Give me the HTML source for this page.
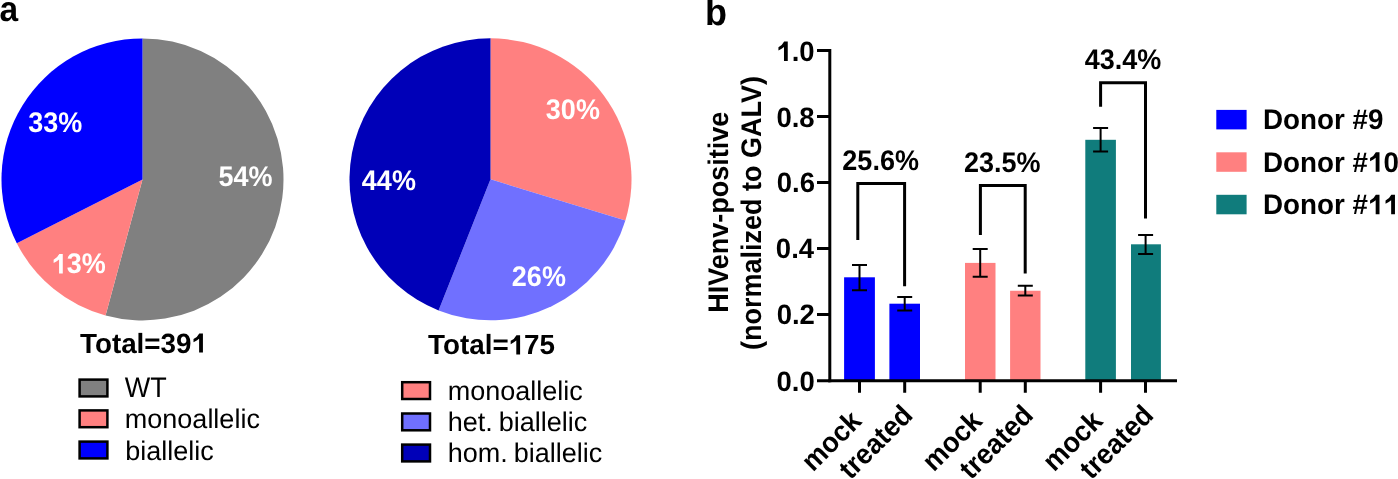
<!DOCTYPE html>
<html><head><meta charset="utf-8"><style>
html,body{margin:0;padding:0;background:#fff;width:1398px;height:479px;overflow:hidden}
svg{display:block;text-rendering:geometricPrecision;will-change:transform}
text{font-family:"Liberation Sans",sans-serif}
</style></head><body>
<svg width="1398" height="479" viewBox="0 0 1398 479">
<path d="M142.5,179.4 L142.50,38.40 A141,141 0 1 1 105.55,315.47 Z" fill="#808080"/>
<path d="M142.5,179.4 L105.55,315.47 A141,141 0 0 1 16.79,243.26 Z" fill="#FF8080"/>
<path d="M142.5,179.4 L16.79,243.26 A141,141 0 0 1 142.50,38.40 Z" fill="#0000FF"/>
<path d="M490.5,179.3 L490.50,38.30 A141,141 0 0 1 625.36,220.46 Z" fill="#FF8080"/>
<path d="M490.5,179.3 L625.36,220.46 A141,141 0 0 1 438.59,310.40 Z" fill="#7070FF"/>
<path d="M490.5,179.3 L438.59,310.40 A141,141 0 0 1 490.50,38.30 Z" fill="#0000B8"/>
<g stroke="#000" stroke-width="2.5">
<rect x="79.6" y="379.6" width="27.8" height="16.8" fill="#808080"/>
<rect x="79.6" y="410.4" width="27.8" height="16.8" fill="#FF8080"/>
<rect x="79.6" y="441.6" width="27.8" height="16.8" fill="#0000FF"/>
<rect x="402.2" y="382.2" width="27.8" height="16.8" fill="#FF8080"/>
<rect x="402.2" y="413.5" width="27.8" height="16.8" fill="#7070FF"/>
<rect x="402.2" y="444.6" width="27.8" height="16.8" fill="#0000B8"/>
</g>
<rect x="844.1" y="277.3" width="30.8" height="103.70" fill="#0000FF"/>
<rect x="889.4" y="303.7" width="30.6" height="77.30" fill="#0000FF"/>
<rect x="965" y="262.9" width="30.5" height="118.10" fill="#FF8080"/>
<rect x="1010.1" y="290.75" width="30.4" height="90.25" fill="#FF8080"/>
<rect x="1085.3" y="139.8" width="30.6" height="241.20" fill="#107C7C"/>
<rect x="1131" y="244.3" width="29.9" height="136.70" fill="#107C7C"/>
<path d="M859.5,264.9V290.2M852.0,264.9H867.0M852.0,290.2H867.0M904.7,297V310.6M897.2,297H912.2M897.2,310.6H912.2M980.2,249.1V276.8M972.7,249.1H987.7M972.7,276.8H987.7M1025.3,285.7V295.4M1017.8,285.7H1032.8M1017.8,295.4H1032.8M1100.6,127.9V151.5M1093.1,127.9H1108.1M1093.1,151.5H1108.1M1145.6,234.9V254M1138.1,234.9H1153.1M1138.1,254H1153.1" stroke="#000" stroke-width="2" fill="none"/>
<g stroke="#000" stroke-width="3" fill="none">
<path d="M829.8,49V382.2"/>
<path d="M828.3,380.7H1177"/>
<path d="M817,50.6H829.8M817,116.6H829.8M817,182.6H829.8M817,248.6H829.8M817,314.6H829.8M817,380.7H829.8"/>
<path d="M859.5,380.7V392.7M904.7,380.7V392.7M980.2,380.7V392.7M1025.3,380.7V392.7M1100.6,380.7V392.7M1145.5,380.7V392.7"/>
<path d="M857.8,240V183.6H904.6V286.3"/>
<path d="M980.4,234.9V185.4H1025.2V273.6"/>
<path d="M1100.6,106.8V82.8H1145.5V218.4"/>
</g>
<rect x="1216.3" y="109.9" width="30.3" height="19.5" fill="#0000FF"/>
<rect x="1216.3" y="152.3" width="30.3" height="19.5" fill="#FF8080"/>
<rect x="1216.3" y="194.8" width="30.3" height="19.5" fill="#107C7C"/>
<text id="t_a" transform="translate(-0.55,20.65) scale(1,1.05)" font-size="33.5" font-weight="bold">a</text>
<text id="t_b" transform="translate(704.99,25.25) scale(1,1.05)" font-size="36" font-weight="bold">b</text>
<text id="t_33" transform="translate(55.19,132.26) scale(1,1.05)" font-size="27" font-weight="bold" text-anchor="middle" fill="#fff">33%</text>
<text id="t_54" transform="translate(245.43,185.74) scale(1,1.05)" font-size="27" font-weight="bold" text-anchor="middle" fill="#fff">54%</text>
<text id="t_13" transform="translate(78.67,273.48) scale(1,1.05)" font-size="27" font-weight="bold" text-anchor="middle" fill="#fff"> 3%</text><path transform="translate(51.65,273.48) scale(0.01318,-0.01384)" d="M844,0 L563,0 L563,1018 Q420,895 150,753 L150,998 Q430,1115 575,1409 L844,1409 Z" fill="#fff"/>
<text id="t_30" transform="translate(572.87,119.15) scale(1,1.05)" font-size="27" font-weight="bold" text-anchor="middle" fill="#fff">30%</text>
<text id="t_44" transform="translate(388.86,190.04) scale(1,1.05)" font-size="27" font-weight="bold" text-anchor="middle" fill="#fff">44%</text>
<text id="t_26" transform="translate(538.86,286.35) scale(1,1.05)" font-size="27" font-weight="bold" text-anchor="middle" fill="#fff">26%</text>
<text id="t_T391" transform="translate(143.46,352.52) scale(1,1.0)" font-size="27.8" font-weight="bold" text-anchor="middle">Total=39 </text><path transform="translate(191.47,352.52) scale(0.01357,-0.01357)" d="M844,0 L563,0 L563,1018 Q420,895 150,753 L150,998 Q430,1115 575,1409 L844,1409 Z"/>
<text id="t_T175" transform="translate(491.56,354.38) scale(1,1.0)" font-size="27.8" font-weight="bold" text-anchor="middle">Total= 75</text><path transform="translate(508.65,354.38) scale(0.01357,-0.01357)" d="M844,0 L563,0 L563,1018 Q420,895 150,753 L150,998 Q430,1115 575,1409 L844,1409 Z"/>
<text id="t_WT" transform="translate(124.82,397.20) scale(1,1.05)" font-size="27">WT</text>
<text id="t_mono1" transform="translate(124.82,427.85) scale(1,1.0)" font-size="27">monoallelic</text>
<text id="t_bial1" transform="translate(125.17,459.80) scale(1,1.0)" font-size="27">biallelic</text>
<text id="t_mono2" transform="translate(447.76,400.25) scale(1,1.0)" font-size="27">monoallelic</text>
<text id="t_het" transform="translate(447.64,431.20) scale(1,1.0)" font-size="27" word-spacing="-1.5">het. biallelic</text>
<text id="t_hom" transform="translate(447.64,462.20) scale(1,1.0)" font-size="27" word-spacing="-1.5">hom. biallelic</text>
<text id="t_d9" transform="translate(1263.04,129.37) scale(1,1.02)" font-size="27.8" font-weight="bold">Donor #9</text>
<text id="t_d10" transform="translate(1263.04,171.80) scale(1,1.02)" font-size="27.8" font-weight="bold">Donor # 0</text><path transform="translate(1368.04,171.80) scale(0.01357,-0.01385)" d="M844,0 L563,0 L563,1018 Q420,895 150,753 L150,998 Q430,1115 575,1409 L844,1409 Z"/>
<text id="t_d11" transform="translate(1263.04,214.30) scale(1,1.02)" font-size="27.8" font-weight="bold">Donor #  </text><path transform="translate(1368.04,214.30) scale(0.01357,-0.01385)" d="M844,0 L563,0 L563,1018 Q420,895 150,753 L150,998 Q430,1115 575,1409 L844,1409 Z"/><path transform="translate(1383.51,214.30) scale(0.01357,-0.01385)" d="M844,0 L563,0 L563,1018 Q420,895 150,753 L150,998 Q430,1115 575,1409 L844,1409 Z"/>
<text id="t_y10" transform="translate(814.65,60.90) scale(1,1.02)" font-size="27.5" font-weight="bold" text-anchor="end"> .0</text><path transform="translate(776.42,60.90) scale(0.01343,-0.01370)" d="M844,0 L563,0 L563,1018 Q420,895 150,753 L150,998 Q430,1115 575,1409 L844,1409 Z"/>
<text id="t_y08" transform="translate(814.61,126.76) scale(1,1.02)" font-size="27.5" font-weight="bold" text-anchor="end">0.8</text>
<text id="t_y06" transform="translate(814.98,192.43) scale(1,1.02)" font-size="27.5" font-weight="bold" text-anchor="end">0.6</text>
<text id="t_y04" transform="translate(814.07,258.42) scale(1,1.02)" font-size="27.5" font-weight="bold" text-anchor="end">0.4</text>
<text id="t_y02" transform="translate(814.91,324.22) scale(1,1.02)" font-size="27.5" font-weight="bold" text-anchor="end">0.2</text>
<text id="t_y00" transform="translate(814.76,391.37) scale(1,1.02)" font-size="27.5" font-weight="bold" text-anchor="end">0.0</text>
<text id="t_p256" transform="translate(880.63,170.14) scale(1,1.05)" font-size="27" font-weight="bold" text-anchor="middle">25.6%</text>
<text id="t_p235" transform="translate(1002.25,171.94) scale(1,1.05)" font-size="27" font-weight="bold" text-anchor="middle">23.5%</text>
<text id="t_p434" transform="translate(1123.07,68.89) scale(1,1.05)" font-size="27" font-weight="bold" text-anchor="middle">43.4%</text>
<text id="t_yt1" transform="translate(728.28,212.18) rotate(-90) scale(1,1.05)" font-size="27" font-weight="bold" text-anchor="middle">HIVenv-positive</text>
<text id="t_yt2" transform="translate(761.23,213.04) rotate(-90) scale(1,1.05)" font-size="27" font-weight="bold" text-anchor="middle">(normalized to GALV)</text>
<text id="t_m1" transform="translate(862.97,422.63) rotate(-45) scale(1,1.05)" font-size="27" font-weight="bold" text-anchor="end">mock</text>
<text id="t_t1" transform="translate(914.17,416.80) rotate(-45) scale(1,1.05)" font-size="27" font-weight="bold" text-anchor="end">treated</text>
<text id="t_m2" transform="translate(983.67,422.63) rotate(-45) scale(1,1.05)" font-size="27" font-weight="bold" text-anchor="end">mock</text>
<text id="t_t2" transform="translate(1034.77,416.80) rotate(-45) scale(1,1.05)" font-size="27" font-weight="bold" text-anchor="end">treated</text>
<text id="t_m3" transform="translate(1104.07,422.63) rotate(-45) scale(1,1.05)" font-size="27" font-weight="bold" text-anchor="end">mock</text>
<text id="t_t3" transform="translate(1154.97,416.80) rotate(-45) scale(1,1.05)" font-size="27" font-weight="bold" text-anchor="end">treated</text>
</svg>
</body></html>
